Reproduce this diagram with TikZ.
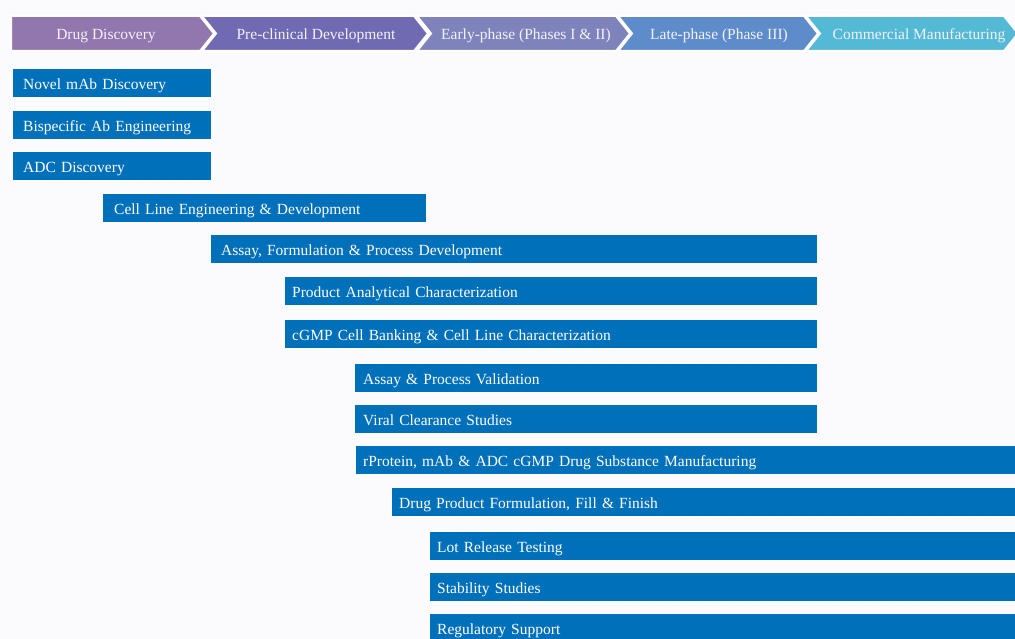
\documentclass[tikz,border=0pt]{standalone}
\usepackage{fontspec}
\setmainfont{Liberation Serif}
\definecolor{bg}{HTML}{FBFBFE}
\definecolor{barblue}{HTML}{0070BA}
\definecolor{ch1}{HTML}{9276AE}
\definecolor{ch2}{HTML}{6F6AB2}
\definecolor{ch3}{HTML}{7E83BC}
\definecolor{ch4}{HTML}{5E8CCA}
\definecolor{ch5}{HTML}{54B9D4}
\definecolor{chtext}{HTML}{F4F2FA}
\tikzset{
  bar/.style={fill=barblue, draw=none, anchor=north west, text=white,
    minimum height=28pt, inner ysep=0pt, align=left,
    text height=13.5pt, text depth=0pt,
    font=\fontsize{15.5}{18}\selectfont},
  chev/.style={draw=white, line width=2pt, line join=miter},
  chevlabel/.style={text=chtext, font=\fontsize{15.5}{18}\selectfont, inner sep=0pt,
    text height=13pt, text depth=0pt}
}
\newcommand{\mybar}[6]{% name, x, y, width, text, left padding
  \node[bar, inner xsep=#6pt, text width=#4pt-2*#6pt] (#1) at (#2,#3) {#5};}
\begin{document}
\begin{tikzpicture}[x=1pt,y=-1pt]
\fill[bg] (0,0) rectangle (1015,639);
\useasboundingbox (0,0) rectangle (1015,639);
% header chevrons
\fill[ch1,chev] (11,16) -- (200,16) -- (214,33.5) -- (200,51) -- (11,51) -- cycle;
\fill[ch2,chev] (202,16) -- (414,16) -- (428,33.5) -- (414,51) -- (202,51) -- (216,33.5) -- cycle;
\fill[ch3,chev] (417,16) -- (616,16) -- (630,33.5) -- (616,51) -- (417,51) -- (431,33.5) -- cycle;
\fill[ch4,chev] (618,16) -- (804,16) -- (818,33.5) -- (804,51) -- (618,51) -- (632,33.5) -- cycle;
\fill[ch5,chev] (806,16) -- (1004,16) -- (1018,33.5) -- (1004,51) -- (806,51) -- (820,33.5) -- cycle;
\node[chevlabel] (h1) at (106,33.5) {Drug Discovery};
\node[chevlabel] (h2) at (316,33.5) {Pre-clinical Development};
\node[chevlabel] (h3) at (526,33.5) {Early-phase (Phases I \& II)};
\node[chevlabel] (h4) at (719,33.5) {Late-phase (Phase III)};
\node[chevlabel] (h5) at (919,33.5) {Commercial Manufacturing};
% bars
\mybar{b1}{13}{69}{198}{Novel mAb Discovery}{10}
\mybar{b2}{13}{111}{198}{Bispecific Ab Engineering}{10}
\mybar{b3}{13}{152}{198}{ADC Discovery}{10}
\mybar{b4}{103}{194}{323}{Cell Line Engineering \& Development}{11}
\mybar{b5}{211}{235}{606}{Assay, Formulation \& Process Development}{10}
\mybar{b6}{285}{277}{532}{Product Analytical Characterization}{7}
\mybar{b7}{285}{320}{532}{cGMP Cell Banking \& Cell Line Characterization}{7}
\mybar{b8}{355}{364}{462}{Assay \& Process Validation}{8}
\mybar{b9}{355}{405}{462}{Viral Clearance Studies}{8}
\mybar{b10}{356}{446}{662}{rProtein, mAb \& ADC cGMP Drug Substance Manufacturing}{7}
\mybar{b11}{392}{488}{626}{Drug Product Formulation, Fill \& Finish}{7}
\mybar{b12}{430}{532}{588}{Lot Release Testing}{7}
\mybar{b13}{430}{573}{588}{Stability Studies}{7}
\mybar{b14}{430}{614}{588}{Regulatory Support}{7}
\end{tikzpicture}
\end{document}
